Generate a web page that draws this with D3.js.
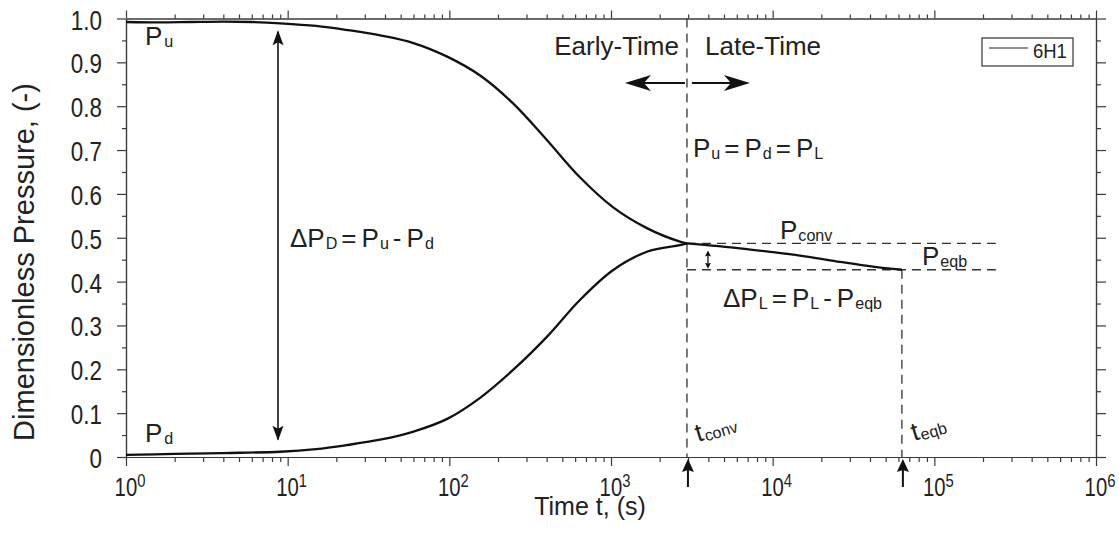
<!DOCTYPE html>
<html><head><meta charset="utf-8">
<script src="https://cdn.jsdelivr.net/npm/d3@7"></script>
<style>
body{margin:0;background:#fff}
svg{display:block}
text{font-family:"Liberation Sans",Arial,Helvetica,sans-serif;fill:#222}
</style>
</head><body>
<svg id="c" width="1119" height="533"></svg>
<script>
// ---- data ----
const puTime  = [1, 1.6, 2.5, 4, 6, 9, 15, 23, 38, 60, 97, 155, 247, 401, 642, 1027, 1667, 2669, 2950];
const puValue = [0.992, 0.991, 0.992, 0.993, 0.992, 0.989, 0.983, 0.974, 0.961, 0.944, 0.913, 0.870, 0.807, 0.723, 0.638, 0.570, 0.522, 0.491, 0.487];
const pdTime  = [1, 2, 4, 9, 15, 23, 38, 60, 97, 155, 247, 401, 642, 1027, 1667, 2669, 2950];
const pdValue = [0.005, 0.007, 0.009, 0.012, 0.018, 0.027, 0.040, 0.058, 0.087, 0.135, 0.198, 0.274, 0.358, 0.426, 0.468, 0.483, 0.487];
const plTime  = [2950, 6270, 10030, 16260, 26060, 41700, 63000];
const plValue = [0.487, 0.476, 0.467, 0.457, 0.445, 0.434, 0.427];
const tConv = 2950, tEqb = 63000, pConv = 0.487, pEqb = 0.427, refEnd = 2.4e5;
const xMajorTicks = [1, 10, 100, 1000, 1e4, 1e5, 1e6];
const xTickExponents = ["0", "1", "2", "3", "4", "5", "6"];
const yMajorTicks = [0, 0.1, 0.2, 0.3, 0.4, 0.5, 0.6, 0.7, 0.8, 0.9, 1.0];
const yTickLabels = ["0", "0.1", "0.2", "0.3", "0.4", "0.5", "0.6", "0.7", "0.8", "0.9", "1.0"];
const seriesName = "6H1";

// ---- scales ----
const svg = d3.select("#c");
const x = d3.scaleLog().domain([1, 1e6]).range([126, 1096]);
const y = d3.scaleLinear().domain([0, 1]).range([457, 18.5]);
const X0 = x.range()[0], X1 = x.range()[1], Y0 = y.range()[0], Y1 = y.range()[1];

const xMinor = [];
xMajorTicks.slice(0, -1).forEach(d => { for (let m = 2; m <= 9; m++) xMinor.push(d * m); });
const yMinor = yMajorTicks.slice(0, -1).map(d => d + 0.05);

const axisColor = "#3a3a3a";
function styleAxis(g) {
  g.selectAll("path,line").attr("stroke", axisColor).attr("stroke-width", 1.2);
  g.selectAll("text").remove();
}
svg.append("g").attr("transform", `translate(0,${Y0})`).call(d3.axisBottom(x).tickValues(xMajorTicks).tickSize(9).tickSizeOuter(0)).call(styleAxis);
svg.append("g").attr("transform", `translate(0,${Y0})`).call(d3.axisBottom(x).tickValues(xMinor).tickSize(5).tickSizeOuter(0)).call(styleAxis);
svg.append("g").attr("transform", `translate(0,${Y1})`).call(d3.axisTop(x).tickValues(xMajorTicks).tickSize(8).tickSizeOuter(0)).call(styleAxis);
svg.append("g").attr("transform", `translate(0,${Y1})`).call(d3.axisTop(x).tickValues(xMinor).tickSize(4).tickSizeOuter(0)).call(styleAxis);
svg.append("g").attr("transform", `translate(${X0},0)`).call(d3.axisLeft(y).tickValues(yMajorTicks).tickSize(9).tickSizeOuter(0)).call(styleAxis);
svg.append("g").attr("transform", `translate(${X0},0)`).call(d3.axisLeft(y).tickValues(yMinor).tickSize(4).tickSizeOuter(0)).call(styleAxis);
svg.append("g").attr("transform", `translate(${X1},0)`).call(d3.axisRight(y).tickValues(yMajorTicks).tickSize(10).tickSizeOuter(0)).call(styleAxis);
svg.append("g").attr("transform", `translate(${X1},0)`).call(d3.axisRight(y).tickValues(yMinor).tickSize(5).tickSizeOuter(0)).call(styleAxis);

// tick labels
yMajorTicks.forEach((v, i) => {
  svg.append("text").attr("transform", `translate(102,${y(v) + 11}) scale(0.8,1)`)
    .attr("text-anchor", "end").attr("font-size", 28).text(yTickLabels[i]);
});
xMajorTicks.forEach((v, i) => {
  const t = svg.append("text").attr("transform", `translate(${x(v) + 4},496) scale(0.78,1)`)
    .attr("text-anchor", "middle").attr("font-size", 26);
  t.append("tspan").text("10");
  t.append("tspan").attr("dy", -9).attr("font-size", 19).text(xTickExponents[i]);
});

// axis titles
svg.append("text").attr("x", 590).attr("y", 515).attr("text-anchor", "middle").attr("font-size", 25).text("Time t, (s)");
svg.append("text").attr("transform", "translate(34,262) rotate(-90)").attr("text-anchor", "middle").attr("font-size", 29).text("Dimensionless Pressure, (-)");

// ---- reference (dashed) lines ----
const dash = "9,6";
function dline(x1, y1, x2, y2) {
  svg.append("line").attr("x1", x1).attr("y1", y1).attr("x2", x2).attr("y2", y2)
    .attr("stroke", "#333").attr("stroke-width", 1.3).attr("stroke-dasharray", dash);
}
dline(x(tConv), Y1, x(tConv), Y0);
dline(x(tEqb), y(pEqb), x(tEqb), Y0);
dline(x(tConv), y(pConv), x(refEnd), y(pConv));
dline(x(tConv), y(pEqb), x(refEnd), y(pEqb));

// ---- curves ----
const line = d3.line().x(d => x(d[0])).y(d => y(d[1])).curve(d3.curveCatmullRom.alpha(0.5));
[[puTime, puValue], [pdTime, pdValue], [plTime, plValue]].forEach(([t, v]) => {
  svg.append("path").datum(t.map((d, i) => [d, v[i]])).attr("d", line)
    .attr("fill", "none").attr("stroke", "#111").attr("stroke-width", 2.3).attr("stroke-linejoin", "round");
});

// ---- arrows ----
function head(xt, yt, ang, len, wid, notch) {
  const c = Math.cos(ang), s = Math.sin(ang);
  const px = (a, b) => [xt + a * c - b * s, yt + a * s + b * c];
  const p = [px(0, 0), px(-len, wid / 2), px(-len + notch, 0), px(-len, -wid / 2)];
  svg.append("path").attr("d", "M" + p.map(q => q.join(",")).join("L") + "Z").attr("fill", "#111");
}
function arrowLine(x1, y1, x2, y2, w) {
  svg.append("line").attr("x1", x1).attr("y1", y1).attr("x2", x2).attr("y2", y2).attr("stroke", "#111").attr("stroke-width", w);
}
const xa = 278;
arrowLine(xa, y(0.97), xa, y(0.04), 1.6);
head(xa, y(0.973), -Math.PI / 2, 15, 11, 3);
head(xa, y(0.037), Math.PI / 2, 15, 11, 3);
const ya = 83;
arrowLine(x(tConv) - 2, ya, x(tConv) - 45, ya, 2);
head(x(tConv) - 62, ya, Math.PI, 26, 16, 7);
arrowLine(x(tConv) + 5, ya, x(tConv) + 45, ya, 2);
head(x(tConv) + 63, ya, 0, 26, 16, 7);
const xs = x(tConv) + 21;
arrowLine(xs, y(pConv) + 10, xs, y(pEqb) - 3, 1.3);
head(xs, y(pConv) + 7, -Math.PI / 2, 6, 6, 1);
head(xs, y(pEqb) - 1, Math.PI / 2, 6, 6, 1);
[tConv, tEqb].forEach(t => {
  arrowLine(x(t) + 1, 487, x(t) + 1, 468, 2);
  head(x(t) + 1, 459, -Math.PI / 2, 13, 12, 2);
});

// ---- rich text helper ----
function rich(parent, xx, yy, parts, size, anchor) {
  const t = parent.append("text").attr("x", xx).attr("y", yy).attr("font-size", size)
    .attr("text-anchor", anchor || "start");
  let shifted = false;
  parts.forEach(p => {
    const [str, kind, gap] = p;
    const ts = t.append("tspan").text(str);
    if (gap) ts.attr("dx", gap);
    if (kind === "s") {
      ts.attr("font-size", size * 0.62);
      if (!shifted) { ts.attr("dy", 2); shifted = true; }
    } else if (shifted) { ts.attr("dy", -2); shifted = false; }
  });
  return t;
}
const F = 26;
rich(svg, 145, 45, [["P"], ["u", "s", 2]], F);
rich(svg, 145, 442, [["P"], ["d", "s", 2]], F);
rich(svg, 290, 247, [["ΔP"], ["D", "s", 1], ["=", "n", 4], ["P", "n", 5], ["u", "s", 1], ["-", "n", 4], ["P", "n", 5], ["d", "s", 1]], F);
rich(svg, 679, 55, [["Early-Time"]], F, "end");
rich(svg, 705, 55, [["Late-Time"]], F);
rich(svg, 693, 157, [["P"], ["u", "s", 1], ["=", "n", 4], ["P", "n", 5], ["d", "s", 1], ["=", "n", 4], ["P", "n", 5], ["L", "s", 1]], F);
rich(svg, 780, 239, [["P"], ["conv", "s", 1]], F);
rich(svg, 922, 265, [["P"], ["eqb", "s", 1]], F);
rich(svg, 723, 307, [["ΔP"], ["L", "s", 1], ["=", "n", 4], ["P", "n", 5], ["L", "s", 1], ["-", "n", 4], ["P", "n", 5], ["eqb", "s", 1]], F);
const gc = svg.append("g").attr("transform", `translate(${x(tConv) + 11},442) rotate(-17)`);
rich(gc, 0, 0, [["t"], ["conv", "s", 1]], 26);
const ge = svg.append("g").attr("transform", `translate(${x(tEqb) + 12},441) rotate(-17)`);
rich(ge, 0, 0, [["t"], ["eqb", "s", 1]], 26);

// ---- legend ----
const lg = svg.append("g");
lg.append("rect").attr("x", 982).attr("y", 38).attr("width", 91).attr("height", 28)
  .attr("fill", "#fff").attr("stroke", "#333").attr("stroke-width", 1.2);
lg.append("line").attr("x1", 989).attr("x2", 1028).attr("y1", 48).attr("y2", 48).attr("stroke", "#222").attr("stroke-width", 1);
lg.append("text").attr("transform", "translate(1033,58) scale(0.88,1)").attr("font-size", 21).text(seriesName);
</script>
</body></html>
